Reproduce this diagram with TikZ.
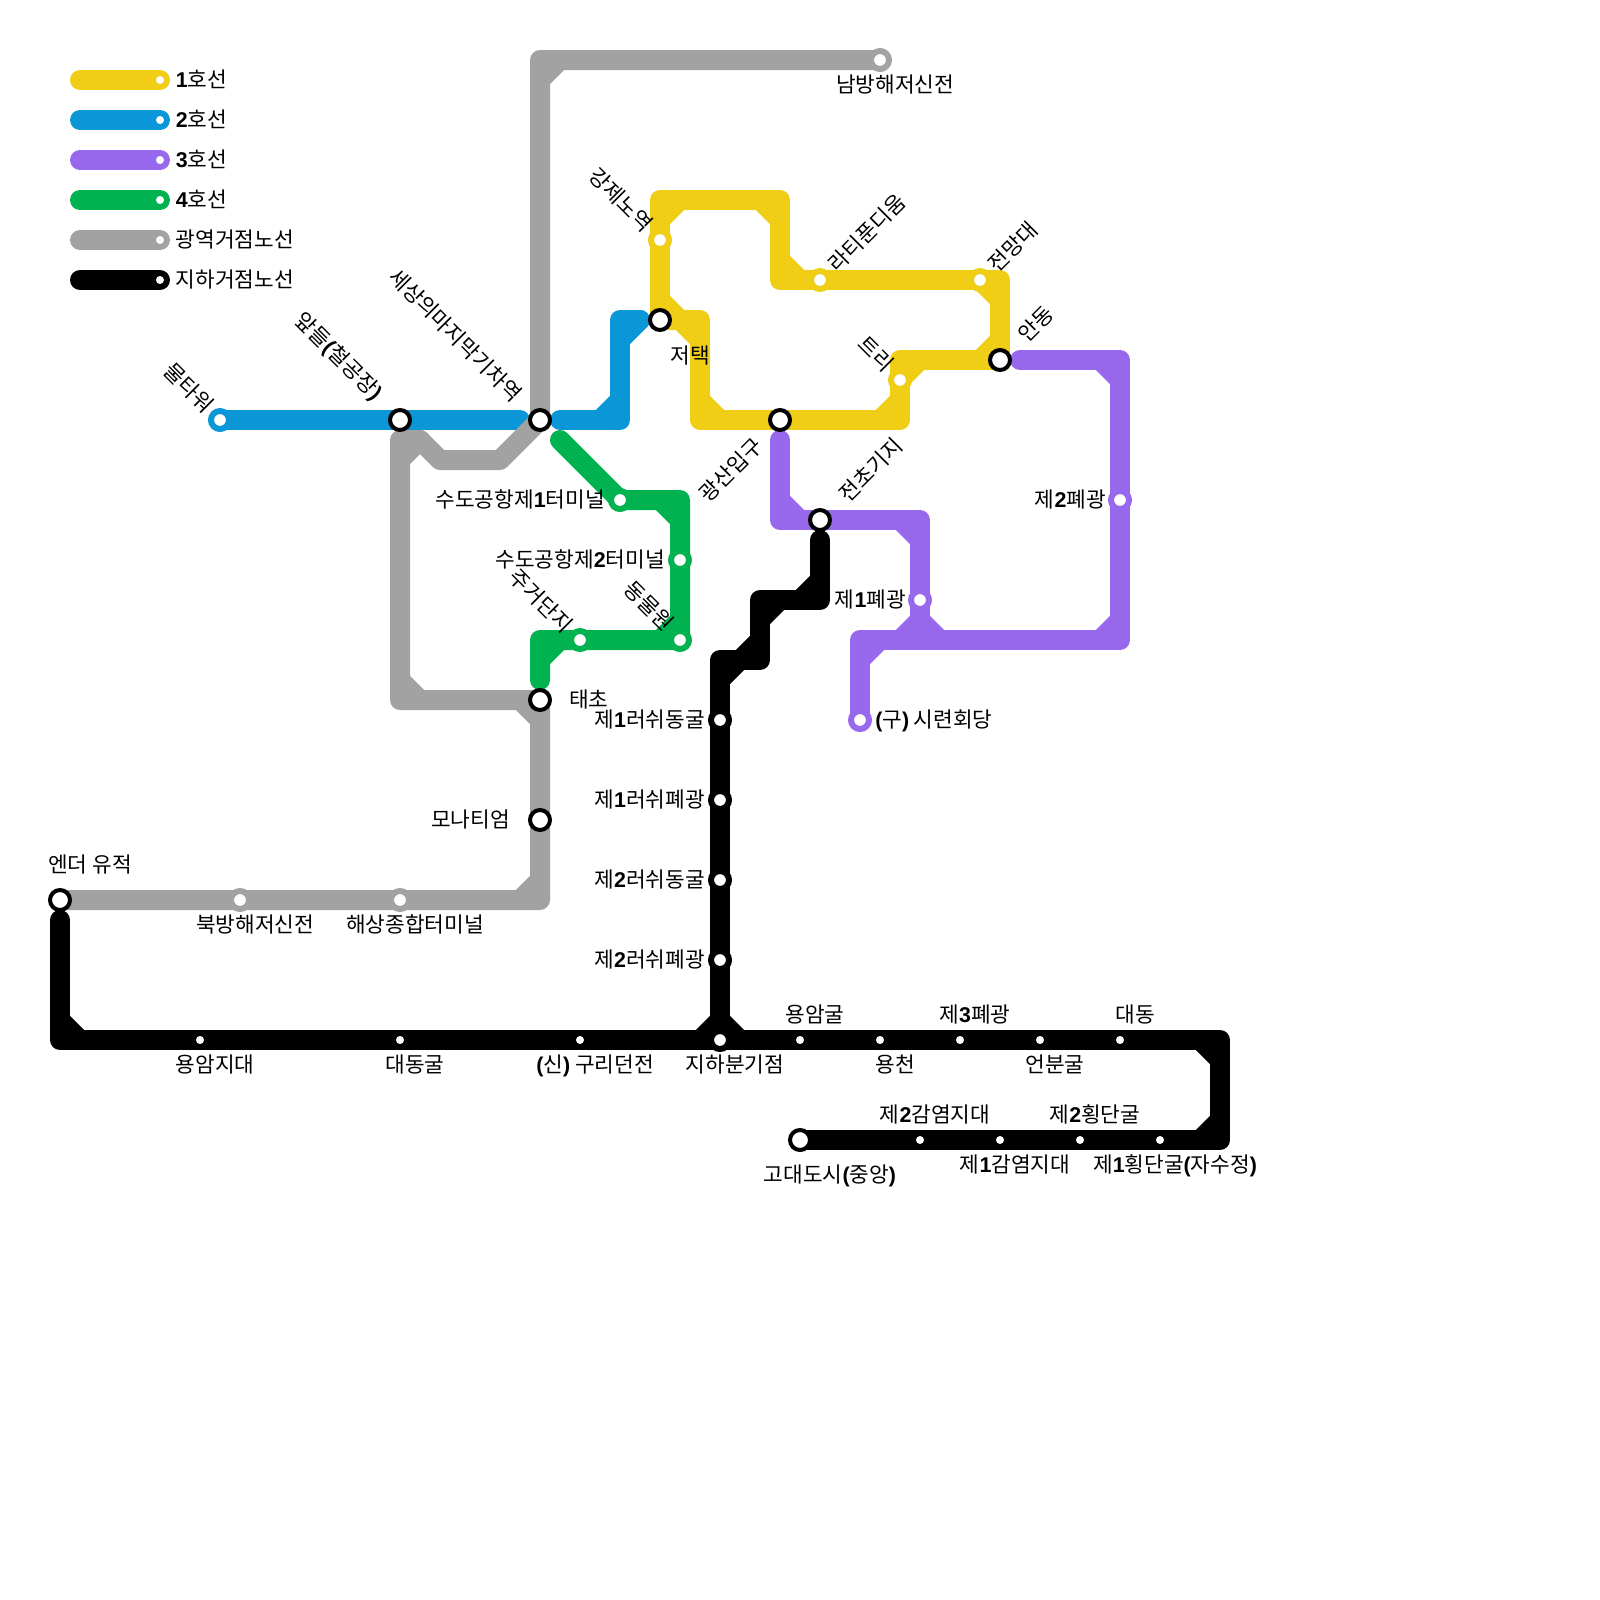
\documentclass[tikz,border=0pt]{standalone}
\usepackage{fontspec}
\setmainfont{Noto Sans CJK KR}
\newfontfamily\numfont{Liberation Sans}
\newcommand{\num}[1]{{\numfont\bfseries #1}}
\usepackage{tikz}
\usetikzlibrary{backgrounds,positioning}
\definecolor{lineYellow}{RGB}{240,206,21}
\definecolor{lineBlue}{RGB}{10,150,215}
\definecolor{linePurple}{RGB}{153,105,237}
\definecolor{lineGreen}{RGB}{0,179,80}
\definecolor{lineGrey}{RGB}{162,162,162}

\begin{document}
\begin{tikzpicture}[
  x=0.5cm, y=-0.5cm,
  rail/.style={line width=0.5cm, line cap=round, line join=round},
  stop/.style={circle, fill=white, draw=#1, line width=0.15cm, minimum size=0.45cm, inner sep=0pt},
  transfer/.style={circle, fill=white, draw=black, line width=0.1cm, minimum size=0.5cm, inner sep=0pt},
  whitedot/.style={circle, fill=white, minimum size=0.2cm, inner sep=0pt},
  stname/.style={font=\fontsize{15.2}{15.2}\selectfont, inner sep=0pt, text height=1.1em, text depth=0pt},
  upleft/.style={stname, rotate=-45, anchor=east},
  upright/.style={stname, rotate=45, anchor=west}
]
  \useasboundingbox (0,0) rectangle (80,80);

  % legend
  \draw[rail, lineYellow] (4,4) -- (8,4);
  \draw[rail, lineBlue] (4,6) -- (8,6);
  \draw[rail, linePurple] (4,8) -- (8,8);
  \draw[rail, lineGreen] (4,10) -- (8,10);
  \draw[rail, lineGrey] (4,12) -- (8,12);
  \draw[rail, black] (4,14) -- (8,14);
  \node[whitedot] (key1) at (8,4) {};
  \node[whitedot] (key2) at (8,6) {};
  \node[whitedot] (key3) at (8,8) {};
  \node[whitedot] (key4) at (8,10) {};
  \node[whitedot] (key5) at (8,12) {};
  \node[whitedot] (key6) at (8,14) {};
  \node[stname, right=0.28cm of key1] (keyname1) {\num{1}호선};
  \node[stname, right=0.28cm of key2] (keyname2) {\num{2}호선};
  \node[stname, right=0.28cm of key3] (keyname3) {\num{3}호선};
  \node[stname, right=0.28cm of key4] (keyname4) {\num{4}호선};
  \node[stname, right=0.28cm of key5] (keyname5) {광역거점노선};
  \node[stname, right=0.28cm of key6] (keyname6) {지하거점노선};

  % stations
  \node[stop=lineYellow] (gangje) at (33,12) {};
  \node[transfer] (jeotaek) at (33,16) {};
  \node[stop=lineYellow] (ratifun) at (41,14) {};
  \node[stop=lineYellow] (jeonmang) at (49,14) {};
  \node[transfer] (andong) at (50,18) {};
  \node[stop=lineYellow] (teuri) at (45,19) {};
  \node[transfer] (gwangsan) at (39,21) {};
  \node[stop=lineBlue] (multa) at (11,21) {};
  \node[transfer] (apdeul) at (20,21) {};
  \node[transfer] (sesang) at (27,21) {};
  \node[transfer] (jeoncho) at (41,26) {};
  \node[stop=linePurple] (pyegwangB) at (56,25) {};
  \node[stop=linePurple] (pyegwangA) at (46,30) {};
  \node[stop=linePurple] (siryeon) at (43,36) {};
  \node[stop=lineGreen] (termA) at (31,25) {};
  \node[stop=lineGreen] (termB) at (34,28) {};
  \node[stop=lineGreen] (dongmul) at (34,32) {};
  \node[stop=lineGreen] (jugeo) at (29,32) {};
  \node[stop=lineGrey] (nambang) at (44,3) {};
  \node[transfer] (taecho) at (27,35) {};
  \node[transfer] (monati) at (27,41) {};
  \node[transfer] (ender) at (3,45) {};
  \node[stop=lineGrey] (bukbang) at (12,45) {};
  \node[stop=lineGrey] (haesang) at (20,45) {};
  \node[stop=black] (rushA) at (36,36) {};
  \node[stop=black] (rushB) at (36,40) {};
  \node[stop=black] (rushC) at (36,44) {};
  \node[stop=black] (rushD) at (36,48) {};
  \node[stop=black] (bungi) at (36,52) {};
  \node[whitedot] (yongam) at (10,52) {};
  \node[whitedot] (daegul) at (20,52) {};
  \node[whitedot] (guri) at (29,52) {};
  \node[whitedot] (amgul) at (40,52) {};
  \node[whitedot] (yongcheon) at (44,52) {};
  \node[whitedot] (pyegwangC) at (48,52) {};
  \node[whitedot] (eonbun) at (52,52) {};
  \node[whitedot] (daedong) at (56,52) {};
  \node[transfer] (godae) at (40,57) {};
  \node[whitedot] (gamB) at (46,57) {};
  \node[whitedot] (gamA) at (50,57) {};
  \node[whitedot] (hoengB) at (54,57) {};
  \node[whitedot] (hoengA) at (58,57) {};

  % free ends of the rails
  \coordinate (blueW) at (26,21);
  \coordinate (blueE) at (28,21);
  \coordinate (blueN) at (32,16);
  \coordinate (purpleE) at (51,18);
  \coordinate (purpleN) at (39,22);
  \coordinate (greenN) at (28,22);
  \coordinate (greenS) at (27,34);
  \coordinate (blackN) at (41,27);
  \coordinate (blackW) at (3,46);

  % rails, each with its inner corners cut
  \begin{scope}[on background layer]
    \draw[rail, lineYellow] (jeotaek.center) -- (33,10) -- (39,10) -- (39,14) -- (50,14) -- (andong.center) -- (45,18) -- (45,21) -- (35,21) -- (35,16) -- cycle;
    \draw[rail, lineYellow] (33,11) -- (34,10) (38,10) -- (39,11) (39,13) -- (40,14) (49,14) -- (50,15) (50,17) -- (49,18) (46,18) -- (45,19) (45,20) -- (44,21) (36,21) -- (35,20) (35,17) -- (34,16) (34,16) -- (33,15);

    \draw[rail, lineBlue] (multa.center) -- (blueW);
    \draw[rail, lineBlue] (blueE) -- (31,21) -- (31,16) -- (blueN);
    \draw[rail, lineBlue] (30,21) -- (31,20) (31,17) -- (32,16);

    \draw[rail, linePurple] (purpleE) -- (56,18) -- (56,32) -- (46,32) -- (46,26) -- (39,26) -- (purpleN);
    \draw[rail, linePurple] (pyegwangA.center) -- (46,32) -- (43,32) -- (siryeon.center);
    \draw[rail, linePurple] (55,18) -- (56,19) (56,31) -- (55,32) (47,32) -- (46,31) (46,27) -- (45,26) (40,26) -- (39,25) (45,32) -- (46,31) (44,32) -- (43,33);

    \draw[rail, lineGreen] (greenN) -- (termA.center) -- (34,25) -- (dongmul.center) -- (27,32) -- (greenS);
    \draw[rail, lineGreen] (33,25) -- (34,26) (34,31) -- (33,32) (28,32) -- (27,33);

    \draw[rail, lineGrey] (nambang.center) -- (27,3) -- (sesang.center) -- (25,23) -- (22,23) -- (21,22) -- (20,22) -- (20,35) -- (taecho.center) -- (27,45) -- (ender.center);
    \draw[rail, lineGrey] (28,3) -- (27,4) (20,23) -- (21,22) (20,34) -- (21,35) (26,35) -- (27,36) (27,44) -- (26,45);

    \draw[rail, black] (blackN) -- (41,30) -- (38,30) -- (38,33) -- (36,33) -- (bungi.center);
    \draw[rail, black] (blackW) -- (3,52) -- (61,52) -- (61,57) -- (godae.center);
    \draw[rail, black] (41,29) -- (40,30) (39,30) -- (38,31) (38,32) -- (37,33) (37,33) -- (36,34) (3,51) -- (4,52) (35,52) -- (36,51) (36,51) -- (37,52) (60,52) -- (61,53) (61,56) -- (60,57);
  \end{scope}

  % station names
  \node[upleft] (gangjeName) at ([shift={(-0.55,-0.6)}]gangje.center) {강제노역};
  \node[stname] (jeotaekName) at ([shift={(1.5,1.8)}]jeotaek.center) {저택};
  \node[upright] (ratifunName) at ([shift={(0.6,-0.6)}]ratifun.center) {라티푼디움};
  \node[upright] (jeonmangName) at ([shift={(0.6,-0.6)}]jeonmang.center) {전망대};
  \node[upright] (andongName) at ([shift={(1.1,-1.1)}]andong.center) {안동};
  \node[upleft] (teuriName) at ([shift={(-0.5,-0.6)}]teuri.center) {트리};
  \node[stname, rotate=45, anchor=east] (gwangsanName) at ([shift={(-1.05,1.1)}]gwangsan.center) {광산입구};
  \node[upleft] (multaName) at ([shift={(-0.5,-0.55)}]multa.center) {물타워};
  \node[upleft] (apdeulName) at ([shift={(-1.05,-1.2)}]apdeul.center) {앞들\num{(}철공장\num{)}};
  \node[upleft] (sesangName) at ([shift={(-1.1,-1.1)}]sesang.center) {세상의마지막기차역};
  \node[upright] (jeonchoName) at ([shift={(1.15,-1.1)}]jeoncho.center) {전초기지};
  \node[stname, anchor=east] (pyegwangBName) at ([shift={(-0.7,0)}]pyegwangB.center) {제\num{2}폐광};
  \node[stname, anchor=east] (pyegwangAName) at ([shift={(-0.7,0)}]pyegwangA.center) {제\num{1}폐광};
  \node[stname, anchor=west] (siryeonName) at ([shift={(0.75,0)}]siryeon.center) {\num{(}구\num{)} 시련회당};
  \node[stname, anchor=east] (termAName) at ([shift={(-0.75,0)}]termA.center) {수도공항제\num{1}터미널};
  \node[stname, anchor=east] (termBName) at ([shift={(-0.75,0)}]termB.center) {수도공항제\num{2}터미널};
  \node[upleft] (dongmulName) at ([shift={(-0.5,-0.65)}]dongmul.center) {동물원};
  \node[upleft] (jugeoName) at ([shift={(-0.55,-0.55)}]jugeo.center) {주거단지};
  \node[stname] (nambangName) at ([shift={(0.75,1.25)}]nambang.center) {남방해저신전};
  \node[stname, anchor=west] (taechoName) at ([shift={(1.45,0)}]taecho.center) {태초};
  \node[stname, anchor=east] (monatiName) at ([shift={(-1.5,0)}]monati.center) {모나티엄};
  \node[stname] (enderName) at ([shift={(1.5,-1.75)}]ender.center) {엔더 유적};
  \node[stname] (bukbangName) at ([shift={(0.75,1.25)}]bukbang.center) {북방해저신전};
  \node[stname] (haesangName) at ([shift={(0.75,1.25)}]haesang.center) {해상종합터미널};
  \node[stname, anchor=east] (rushAName) at ([shift={(-0.75,0)}]rushA.center) {제\num{1}러쉬동굴};
  \node[stname, anchor=east] (rushBName) at ([shift={(-0.75,0)}]rushB.center) {제\num{1}러쉬폐광};
  \node[stname, anchor=east] (rushCName) at ([shift={(-0.75,0)}]rushC.center) {제\num{2}러쉬동굴};
  \node[stname, anchor=east] (rushDName) at ([shift={(-0.75,0)}]rushD.center) {제\num{2}러쉬폐광};
  \node[stname] (bungiName) at ([shift={(0.75,1.25)}]bungi.center) {지하분기점};
  \node[stname] (yongamName) at ([shift={(0.75,1.25)}]yongam.center) {용암지대};
  \node[stname] (daegulName) at ([shift={(0.75,1.25)}]daegul.center) {대동굴};
  \node[stname] (guriName) at ([shift={(0.75,1.25)}]guri.center) {\num{(}신\num{)} 구리던전};
  \node[stname] (amgulName) at ([shift={(0.75,-1.25)}]amgul.center) {용암굴};
  \node[stname] (yongcheonName) at ([shift={(0.75,1.25)}]yongcheon.center) {용천};
  \node[stname] (pyegwangCName) at ([shift={(0.75,-1.25)}]pyegwangC.center) {제\num{3}폐광};
  \node[stname] (eonbunName) at ([shift={(0.75,1.25)}]eonbun.center) {언분굴};
  \node[stname] (daedongName) at ([shift={(0.75,-1.25)}]daedong.center) {대동};
  \node[stname] (godaeName) at ([shift={(1.5,1.75)}]godae.center) {고대도시\num{(}중앙\num{)}};
  \node[stname] (gamBName) at ([shift={(0.75,-1.25)}]gamB.center) {제\num{2}감염지대};
  \node[stname] (gamAName) at ([shift={(0.75,1.25)}]gamA.center) {제\num{1}감염지대};
  \node[stname] (hoengBName) at ([shift={(0.75,-1.25)}]hoengB.center) {제\num{2}횡단굴};
  \node[stname] (hoengAName) at ([shift={(0.75,1.25)}]hoengA.center) {제\num{1}횡단굴\num{(}자수정\num{)}};
\end{tikzpicture}
\end{document}
